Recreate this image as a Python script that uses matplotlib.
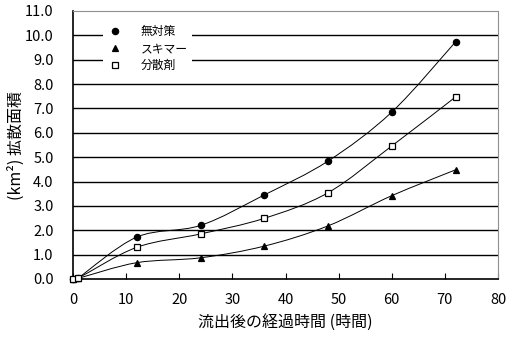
import numpy as np
import matplotlib
matplotlib.use("Agg")
import matplotlib.pyplot as plt
from matplotlib.path import Path
from matplotlib.patches import PathPatch

plt.rcParams['font.family'] = ['Noto Sans CJK JP', 'DejaVu Sans']

hours = [0, 1, 12, 24, 36, 48, 60, 72]
no_measure = [0.0, 0.05, 1.72, 2.2, 3.45, 4.84, 6.85, 9.73]
skimmer = [0.0, 0.03, 0.67, 0.87, 1.35, 2.18, 3.42, 4.48]
dispersant = [0.0, 0.04, 1.3, 1.85, 2.49, 3.54, 5.46, 7.47]
series_labels = ["無対策", "スキマー", "分散剤"]
yticks = [0, 1, 2, 3, 4, 5, 6, 7, 8, 9, 10, 11]
xticks = [0, 10, 20, 30, 40, 50, 60, 70, 80]

fig = plt.figure(figsize=(5.13, 3.40), dpi=100)
ax = fig.add_axes([73/513, 1-279/340, (498-73)/513, (279-11)/340])


def smooth_path(xs, ys, t=1/6):
    xs = np.asarray(xs, float); ys = np.asarray(ys, float)
    n = len(xs)
    verts = [(xs[0], ys[0])]
    codes = [Path.MOVETO]
    for i in range(n - 1):
        p0 = np.array([xs[max(i-1, 0)], ys[max(i-1, 0)]])
        p1 = np.array([xs[i], ys[i]])
        p2 = np.array([xs[i+1], ys[i+1]])
        p3 = np.array([xs[min(i+2, n-1)], ys[min(i+2, n-1)]])
        c1 = p1 + (p2 - p0) * t
        c2 = p2 - (p3 - p1) * t
        verts += [tuple(c1), tuple(c2), tuple(p2)]
        codes += [Path.CURVE4] * 3
    return Path(verts, codes)

ax.set_xlim(0, 80)
ax.set_ylim(0, 11)
for y in yticks[1:-1]:
    ax.axhline(y, color='black', lw=1.0, zorder=1)

markers = ['o', '^', 's']
faces = ['black', 'black', 'white']
sizes = [4.5, 5, 4]
for vals, m, fc, ms, lab in zip([no_measure, skimmer, dispersant], markers, faces, sizes, series_labels):
    ax.add_patch(PathPatch(smooth_path(hours, vals), fill=False, color='black', lw=0.7, zorder=2))
    ax.plot(hours, vals, linestyle='none', marker=m, ms=ms,
            mfc=fc, mec='black', mew=0.9, label=lab, zorder=3, clip_on=False)

leg = ax.legend(loc='upper left', bbox_to_anchor=(0.07, 0.965), frameon=True, fancybox=False,
                edgecolor='none', facecolor='white', framealpha=1, fontsize=8.5,
                handlelength=1.2, handletextpad=1.6, labelspacing=0.35, borderpad=0.4,
                borderaxespad=0)
leg.set_zorder(4)

ax.set_yticks(yticks)
ax.set_yticklabels([f"{v:.1f}" for v in yticks], fontsize=10.5)
ax.set_xticks(xticks)
ax.set_xticklabels([str(v) for v in xticks], fontsize=10.5)
ax.tick_params(axis='y', length=0, pad=14)
ax.tick_params(axis='x', direction='in', length=4, pad=10, color='black')
for s in ['top', 'right']:
    ax.spines[s].set_color('#909090')
for s in ['left', 'bottom']:
    ax.spines[s].set_color('black')
    ax.spines[s].set_linewidth(1.2)

ax.set_xlabel("流出後の経過時間 (時間)", fontsize=11.5)
ax.xaxis.set_label_coords(0.5, -(315-279)/268, transform=ax.transAxes)
ax.set_ylabel("(km²) 拡散面積", fontsize=11.5)
ax.yaxis.set_label_coords(-(73-25)/425, 0.5, transform=ax.transAxes)

fig.savefig("out.png", dpi=100)
